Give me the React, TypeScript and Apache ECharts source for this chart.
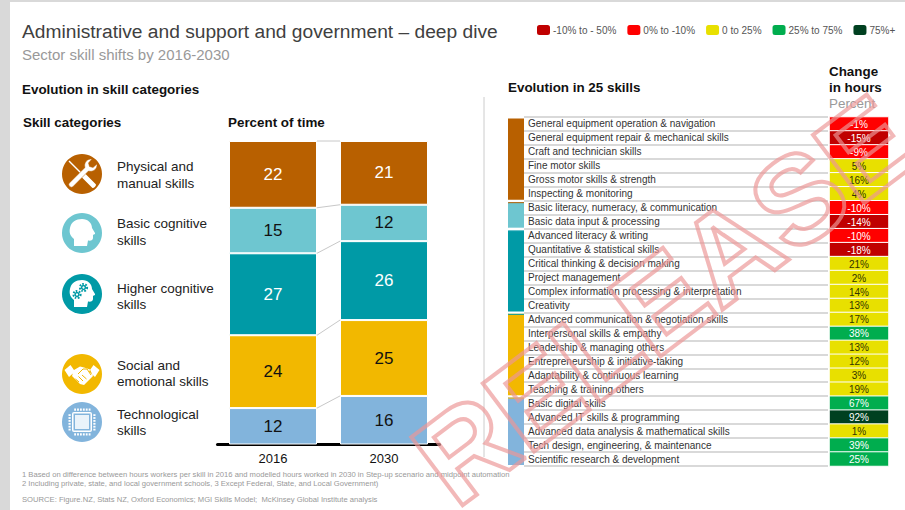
import React, { useEffect, useRef } from "react";
import * as echarts from "echarts";

const FONT = '"Liberation Sans", Arial, sans-serif';

const years = ["2016", "2030"];
const physical = [22, 21];
const basic = [15, 12];
const higher = [27, 26];
const social = [24, 25];
const technological = [12, 16];

const brown = "#b86000";
const cyan = "#6ec6d0";
const teal = "#009aa6";
const amber = "#f2b800";
const blue = "#82b4dc";

const skills = [
  "General equipment operation & navigation",
  "General equipment repair & mechanical skills",
  "Craft and technician skills",
  "Fine motor skills",
  "Gross motor skills & strength",
  "Inspecting & monitoring",
  "Basic literacy, numeracy, & communication",
  "Basic data input & processing",
  "Advanced literacy & writing",
  "Quantitative & statistical skills",
  "Critical thinking & decision making",
  "Project management",
  "Complex information processing & interpretation",
  "Creativity",
  "Advanced communication & negotiation skills",
  "Interpersonal skills & empathy",
  "Leadership & managing others",
  "Entrepreneurship & initiative-taking",
  "Adaptability & continuous learning",
  "Teaching & training others",
  "Basic digital skills",
  "Advanced IT skills & programming",
  "Advanced data analysis & mathematical skills",
  "Tech design, engineering, & maintenance",
  "Scientific research & development",
];
const changes = [-1, -15, -9, 5, 16, 4, -10, -14, -10, -18, 21, 2, 14, 13, 17, 38, 13, 12, 3, 19, 67, 92, 1, 39, 25];

// first row, last row of each skill family in the table
const familyFirst = [0, 6, 8, 14, 20];
const familyLast = [5, 7, 13, 19, 24];
const familyColors = [brown, cyan, teal, amber, blue];

const footnotes = [
  "1 Based on difference between hours workers per skill in 2016 and modelled hours worked in 2030 in Step-up scenario and midpoint automation",
  "2 Including private, state, and local government schools, 3 Except Federal, State, and Local Government)",
];
const sourceLine = "SOURCE: Figure.NZ, Stats NZ, Oxford Economics; MGI Skills Model;  McKinsey Global Institute analysis";

const BAR_WIDTH = 88;

echarts.graphic.registerShape(
  "iconWrench",
  echarts.graphic.extendPath(
    "M7.2 29.2 L23 13.5 C21.5 9 25 4.5 30 5 L26.5 9 L27.5 12.5 L31 13.5 L35 10 C35.5 15 31 18.5 26.5 17 L10.8 32.8 C9 34.5 5.5 31 7.2 29.2 Z",
    {}
  )
);
echarts.graphic.registerShape(
  "iconDriver",
  echarts.graphic.extendPath(
    "M7.5 6.5 L6.5 7.5 L19 20 L20 19 Z M20.3 16.7 L16.7 20.3 L30.2 33.8 C31.5 34.8 34.8 31.5 33.8 30.2 Z",
    {}
  )
);
echarts.graphic.registerShape(
  "iconHead",
  echarts.graphic.extendPath(
    "M12 33 L12 26 C8 23 7 19 8 15 C9 9 14 6 20 6 C26 6 30 10 30 15 L33 20 C33.5 21 32 21.5 31 22 L31 25 C31 27 29 28 26 27.5 L25 33 Z",
    {}
  )
);
echarts.graphic.registerShape(
  "iconShake",
  echarts.graphic.extendPath(
    "M2.5 16 L8.5 11 L13 17.5 L7 23 Z M37.5 16 L31.5 11 L27 17.5 L33 23 Z M12 16 L18 12.5 L22 13.5 L28 15.5 L31 22 L22 31 L18 30 L10 22 Z",
    {}
  )
);

function label(text: string, x: number, y: number, fontSize: number, fill: string, fontWeight = "normal") {
  return {
    type: "text",
    x,
    y,
    silent: true,
    style: { text, fontSize, fontFamily: FONT, fontWeight, fill, verticalAlign: "middle", align: "left" },
  };
}

function disc(fill: string) {
  return { type: "circle", shape: { cx: 20, cy: 20, r: 20 }, style: { fill } };
}

function gear(cx: number, cy: number, r: number) {
  return [
    { type: "circle", shape: { cx, cy, r }, style: { fill: "#ffffff", stroke: teal, lineWidth: 2, lineDash: [1.6, 1.4] } },
    { type: "circle", shape: { cx, cy, r: r * 0.75 }, style: { fill: teal } },
    { type: "circle", shape: { cx, cy, r: r * 0.32 }, style: { fill: "#ffffff" } },
  ];
}

function chipChildren() {
  const pins: any[] = [];
  for (let i = 0; i < 6; i++) {
    const p = 12.2 + i * 2.9;
    pins.push({ type: "rect", shape: { x: p, y: 6.5, width: 1.8, height: 2.2 }, style: { fill: "#fff" } });
    pins.push({ type: "rect", shape: { x: p, y: 31.3, width: 1.8, height: 2.2 }, style: { fill: "#fff" } });
    pins.push({ type: "rect", shape: { x: 6.5, y: p, width: 2.2, height: 1.8 }, style: { fill: "#fff" } });
    pins.push({ type: "rect", shape: { x: 31.3, y: p, width: 2.2, height: 1.8 }, style: { fill: "#fff" } });
  }
  return [
    disc(blue),
    ...pins,
    { type: "rect", shape: { x: 10, y: 10, width: 20, height: 20, r: 2 }, style: { fill: "#fff" } },
    { type: "rect", shape: { x: 11.5, y: 11.5, width: 17, height: 17 }, style: { fill: blue } },
    { type: "rect", shape: { x: 13, y: 13, width: 14, height: 14 }, style: { fill: "#eaf3fa" } },
  ];
}

function icon(x: number, y: number, children: any[]) {
  return { type: "group", x: x - 20, y: y - 20, silent: true, children };
}

const seam = (points: number[][]) => ({
  type: "polyline",
  shape: { points },
  style: { stroke: amber, lineWidth: 1, fill: "none" },
});

function barSeries(name: string, data: number[], color: string, text: string) {
  return {
    name,
    type: "bar",
    stack: "time",
    xAxisIndex: 0,
    yAxisIndex: 0,
    barWidth: BAR_WIDTH,
    data,
    itemStyle: { color, borderColor: "#ffffff", borderWidth: 1 },
    label: { show: true, position: "inside", color: text, fontSize: 17, fontFamily: FONT },
  };
}

export default function App() {
  const ref = useRef<HTMLDivElement>(null);

  useEffect(() => {
    document.body.style.margin = "0";
    const chart = echarts.init(ref.current!, undefined, { renderer: "svg" });

    const rowAxis = (gridIndex: number, extra: object) => ({
      type: "category",
      gridIndex,
      inverse: true,
      data: skills,
      axisLine: { show: false },
      axisTick: { show: false },
      axisLabel: { show: false },
      ...extra,
    });

    // cumulative top of each stacked segment, joined between the two columns
    const stacks = [technological, social, higher, basic, physical];
    const levels: number[][] = [];
    let running = [0, 0];
    stacks.forEach((s) => {
      running = [running[0] + s[0], running[1] + s[1]];
      levels.push([running[0], running[1]]);
    });

    const spans = familyFirst.map((first, i) => [first, familyLast[i], i]);

    chart.setOption({
      animation: false,
      backgroundColor: "#ffffff",
      textStyle: { fontFamily: FONT },
      grid: [
        { left: 217.5, width: 222, top: 141, height: 303.5 },
        { left: 508, width: 16, top: 117, height: 349 },
        { left: 524, width: 304, top: 117, height: 349 },
        { left: 829.5, width: 59, top: 117, height: 349 },
      ],
      xAxis: [
        {
          type: "category",
          gridIndex: 0,
          data: years,
          axisLine: { lineStyle: { color: "#000000", width: 3 } },
          axisTick: { show: false },
          axisLabel: { color: "#111111", fontSize: 13, margin: 7, fontFamily: FONT },
        },
        { type: "value", gridIndex: 1, min: 0, max: 1, show: false },
        { type: "value", gridIndex: 2, min: 0, max: 1, show: false },
        { type: "category", gridIndex: 3, data: ["Change"], show: false },
      ],
      yAxis: [
        { type: "value", gridIndex: 0, min: 0, max: 100, show: false },
        rowAxis(1, { show: false }),
        rowAxis(2, {
          splitLine: { show: true, interval: 0, lineStyle: { color: "#cccccc", width: 1.5 } },
          axisLabel: {
            show: true,
            inside: true,
            interval: 0,
            margin: 4,
            padding: [2, 0, 0, 0],
            color: "#333333",
            fontSize: 10,
            fontFamily: FONT,
          },
        }),
        rowAxis(3, { show: false }),
      ],
      visualMap: {
        type: "piecewise",
        seriesIndex: 8,
        dimension: 2,
        orient: "horizontal",
        left: 537,
        top: 25,
        padding: 0,
        itemWidth: 13,
        itemHeight: 10,
        itemGap: 11,
        textGap: 3,
        selectedMode: false,
        hoverLink: false,
        textStyle: { color: "#555555", fontSize: 10, fontFamily: FONT },
        pieces: [
          { gte: -50, lt: -10, label: "-10% to - 50%", color: "#c00000" },
          { gte: -10, lt: 0, label: "0% to -10%", color: "#ff0000" },
          { gte: 0, lt: 25, label: "0 to 25%", color: "#e8e000" },
          { gte: 25, lt: 75, label: "25% to 75%", color: "#00ad4e" },
          { gte: 75, label: "75%+", color: "#004020" },
        ],
      },
      series: [
        barSeries("Technological skills", technological, blue, "#111111"),
        barSeries("Social and emotional skills", social, amber, "#111111"),
        barSeries("Higher cognitive skills", higher, teal, "#ffffff"),
        barSeries("Basic cognitive skills", basic, cyan, "#111111"),
        barSeries("Physical and manual skills", physical, brown, "#ffffff"),
        {
          type: "custom",
          name: "Connectors",
          xAxisIndex: 0,
          yAxisIndex: 0,
          encode: { y: [0, 1] },
          data: levels,
          silent: true,
          renderItem: (_p: any, api: any) => {
            const a = api.coord([0, api.value(0)]);
            const b = api.coord([1, api.value(1)]);
            return {
              type: "line",
              shape: { x1: a[0] + BAR_WIDTH / 2, y1: a[1], x2: b[0] - BAR_WIDTH / 2, y2: b[1] },
              style: { stroke: "#c8c8c8", lineWidth: 1 },
            };
          },
        },
        {
          type: "custom",
          name: "Skill families",
          xAxisIndex: 1,
          yAxisIndex: 1,
          encode: { y: [0, 1] },
          data: spans,
          silent: true,
          renderItem: (_p: any, api: any) => {
            const h = api.size([0, 1])[1];
            const from = api.coord([0, api.value(0)]);
            const to = api.coord([1, api.value(1)]);
            const idx = api.value(2);
            const top = from[1] - h / 2 + 1.4;
            const bottom = to[1] + h / 2 - 1;
            const children: any[] = [
              {
                type: "rect",
                shape: { x: from[0], y: top, width: to[0] - from[0], height: bottom - top },
                style: { fill: familyColors[idx] },
              },
            ];
            if (idx > 0) {
              children.push({
                type: "rect",
                shape: { x: from[0], y: top, width: to[0] - from[0], height: 1 },
                style: { fill: familyColors[idx - 1] },
              });
            }
            return { type: "group", children };
          },
        },
        {
          // carries the row rules and names of the table
          type: "custom",
          name: "Skill names",
          xAxisIndex: 2,
          yAxisIndex: 2,
          data: [],
          renderItem: () => null,
        },
        {
          type: "heatmap",
          name: "Change in hours",
          xAxisIndex: 3,
          yAxisIndex: 3,
          data: changes.map((v, i) => ({
            value: [0, i, v],
            label: { color: v < 0 || v >= 25 ? "#ffffff" : "#333300" },
          })),
          itemStyle: { borderColor: "#ffffff", borderWidth: 1 },
          label: {
            show: true,
            fontSize: 10,
            fontFamily: FONT,
            offset: [0, 0.5],
            formatter: (p: any) => `${p.value[2]}%`,
          },
        },
      ],
      graphic: {
        elements: [
          { type: "rect", shape: { x: 0, y: 0, width: 905, height: 2 }, style: { fill: "#d9d9d9" }, silent: true },
          { type: "rect", shape: { x: 0, y: 0, width: 10, height: 510 }, style: { fill: "#d9d9d9" }, silent: true },

          label("Administrative and support and government – deep dive", 22, 31.5, 19.2, "#404040"),
          label("Sector skill shifts by 2016-2030", 22, 54, 15, "#999999"),
          label("Evolution in skill categories", 22, 89.5, 13.4, "#111111", "bold"),
          label("Skill categories", 23, 122.5, 13.4, "#111111", "bold"),
          label("Percent of time", 228, 122.5, 13.4, "#111111", "bold"),
          label("Evolution in 25 skills", 508, 87.5, 13.4, "#111111", "bold"),
          label("Change", 829, 71.5, 13.4, "#111111", "bold"),
          label("in hours", 829, 87.5, 13.4, "#111111", "bold"),
          label("Percent", 829, 103.5, 13.4, "#999999"),

          label("Physical and", 117, 166.5, 13.5, "#222222"),
          label("manual skills", 117, 183.5, 13.5, "#222222"),
          label("Basic cognitive", 117, 223.5, 13.5, "#222222"),
          label("skills", 117, 240.5, 13.5, "#222222"),
          label("Higher cognitive", 117, 288.5, 13.5, "#222222"),
          label("skills", 117, 304.5, 13.5, "#222222"),
          label("Social and", 117, 365.5, 13.5, "#222222"),
          label("emotional skills", 117, 381.5, 13.5, "#222222"),
          label("Technological", 117, 414.5, 13.5, "#222222"),
          label("skills", 117, 430.5, 13.5, "#222222"),

          label(footnotes[0], 22, 474.5, 7.65, "#999999"),
          label(footnotes[1], 22, 483.5, 7.65, "#999999"),
          label(sourceLine, 22, 499.5, 7.65, "#999999"),

          {
            type: "line",
            silent: true,
            shape: { x1: 484, y1: 97, x2: 484, y2: 457 },
            style: { stroke: "#cccccc", lineWidth: 1 },
          },

          icon(82, 174, [
            disc(brown),
            { type: "iconDriver", style: { fill: "#ffffff" } },
            { type: "iconWrench", style: { fill: "#ffffff", stroke: brown, lineWidth: 0.5 } },
          ]),
          icon(82, 233, [disc(cyan), { type: "iconHead", style: { fill: "#ffffff" } }]),
          icon(82, 294, [
            disc(teal),
            { type: "iconHead", style: { fill: "#ffffff" } },
            ...gear(21.5, 13.5, 3.6),
            ...gear(15, 20.5, 3.6),
          ]),
          icon(82, 374, [
            disc(amber),
            { type: "iconShake", style: { fill: "#ffffff" } },
            seam([[16, 20], [21, 15], [25, 15], [29, 21]]),
            seam([[13.5, 25], [17, 28]]),
            seam([[16.5, 22.5], [21, 27]]),
            seam([[20, 21], [24.5, 25]]),
          ]),
          icon(82, 422, chipChildren()),

          {
            type: "text",
            x: 664,
            y: 300,
            rotation: 0.645,
            z: 60,
            silent: true,
            style: {
              text: "RELEASE",
              fontSize: 124,
              fontWeight: "bold",
              fontFamily: FONT,
              align: "center",
              verticalAlign: "middle",
              fill: "rgba(255,255,255,0)",
              stroke: "rgba(236,150,150,0.68)",
              lineWidth: 4,
              lineJoin: "round",
            },
          },
        ],
      },
    });

    return () => chart.dispose();
  }, []);

  return <div ref={ref} style={{ width: 905, height: 510 }} />;
}
